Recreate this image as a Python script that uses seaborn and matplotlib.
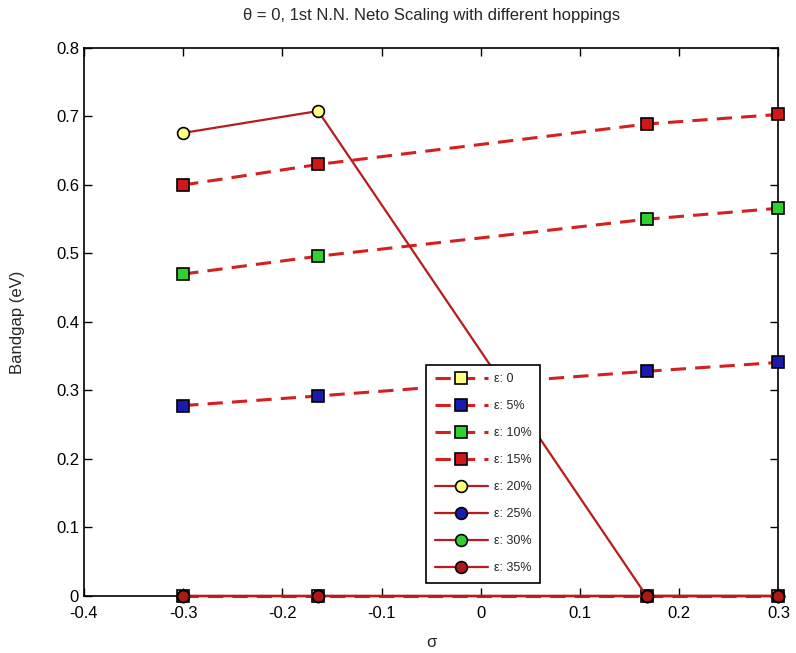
import matplotlib
matplotlib.use("Agg")
import matplotlib.pyplot as plt
import seaborn as sns
import numpy as np
from matplotlib.ticker import FuncFormatter

sigma = [-0.30, -0.164, 0.167, 0.30]
labels = ["ε: 0", "ε: 5%", "ε: 10%", "ε: 15%", "ε: 20%", "ε: 25%", "ε: 30%", "ε: 35%"]
gap_e0 = [0.0, 0.0, 0.0, 0.0]
gap_e5 = [0.278, 0.292, 0.328, 0.341]
gap_e10 = [0.470, 0.496, 0.550, 0.566]
gap_e15 = [0.600, 0.630, 0.689, 0.703]
gap_e20 = [0.676, 0.708, 0.0, 0.0]
gap_e25 = [0.0, 0.0, 0.0, 0.0]
gap_e30 = [0.0, 0.0, 0.0, 0.0]
gap_e35 = [0.0, 0.0, 0.0, 0.0]
series = [gap_e0, gap_e5, gap_e10, gap_e15, gap_e20, gap_e25, gap_e30, gap_e35]

face = ["#ffff80", "#1a1ab0", "#30d030", "#d01818",
        "#ffff80", "#1a1ab0", "#30d030", "#b01818"]
markers = ["s", "s", "s", "s", "o", "o", "o", "o"]
styles = [(0, (5, 3))] * 4 + ["-"] * 4
lcolor = ["#d42020"] * 4 + ["#b81c1c"] * 4
lw = [2.2] * 4 + [1.6] * 4

sns.set_style("white")
plt.rcParams['font.family'] = ['Liberation Sans', 'DejaVu Sans']

fig = plt.figure(figsize=(7.96, 6.53), dpi=100)
ax = fig.add_axes([0.1055, 0.0873, 0.8725, 0.8392])

for vals, lab, fc, mk, ls, lc, w in zip(series, labels, face, markers, styles, lcolor, lw):
    sns.lineplot(x=sigma, y=vals, ax=ax, label=lab, color=lc, linestyle=ls, linewidth=w,
                 marker=mk, markersize=9 if mk == "s" else 8.5, markerfacecolor=fc,
                 markeredgecolor="black", markeredgewidth=1.2, clip_on=False, zorder=3)

ax.set_xlim(-0.4, 0.3)
ax.set_ylim(0, 0.8)
ax.set_xticks(np.arange(-0.4, 0.31, 0.1))
ax.set_yticks(np.arange(0, 0.81, 0.1))
fmt = FuncFormatter(lambda v, p: "0" if abs(v) < 1e-9 else f"{v:.1f}")
ax.xaxis.set_major_formatter(fmt)
ax.yaxis.set_major_formatter(fmt)
ax.tick_params(direction="in", length=6, width=1, top=True, right=True,
               bottom=True, left=True, labelsize=12, colors="black")
ax.tick_params(axis="x", pad=7)
for s in ax.spines.values():
    s.set_visible(True)
    s.set_color("black")
    s.set_linewidth(1.2)

ax.set_xlabel("σ", fontsize=12, labelpad=10)
ax.set_ylabel("Bandgap (eV)", fontsize=12, labelpad=22)
ax.set_title("θ = 0, 1st N.N. Neto Scaling with different hoppings", fontsize=12, pad=20)

leg = ax.legend(loc="lower center", bbox_to_anchor=(0.575, 0.012), frameon=True,
                fancybox=False, edgecolor="black", framealpha=1, fontsize=9,
                handlelength=4.2, labelspacing=1.2, borderpad=0.7, handletextpad=0.5)
leg.get_frame().set_linewidth(1.2)

fig.savefig("out.png", dpi=100, facecolor="white")
